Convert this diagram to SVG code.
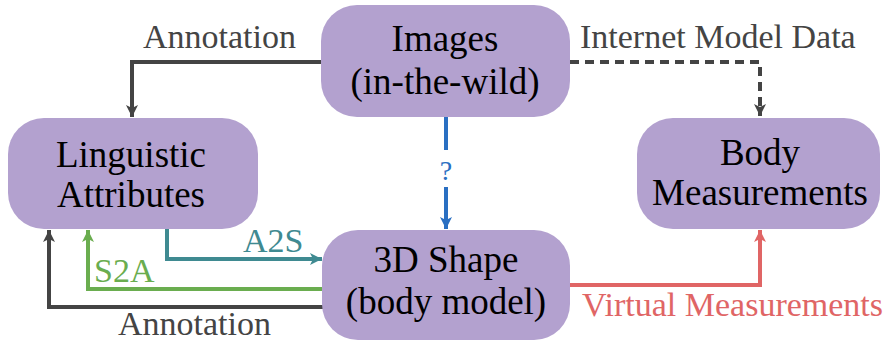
<svg xmlns="http://www.w3.org/2000/svg" width="889" height="342" viewBox="0 0 889 342">
  <style>
    .node { fill: #b3a1cf; }
    .ntext { font-family: "Liberation Serif", "Times New Roman", serif; font-size: 37px; fill: #000; text-anchor: middle; }
    .label { font-family: "Liberation Serif", "Times New Roman", serif; font-size: 34px; }
    .q { font-family: "Liberation Serif", "Times New Roman", serif; font-size: 28px; text-anchor: middle; }
    .edge { fill: none; stroke-width: 4; }
  </style>
  <defs>
    <marker id="ah-dark" markerUnits="userSpaceOnUse" markerWidth="14" markerHeight="14" refX="12" refY="6" orient="auto">
      <path d="M0,0 L12,6 L0,12 L3,6 Z" fill="#444"/>
    </marker>
    <marker id="ah-teal" markerUnits="userSpaceOnUse" markerWidth="14" markerHeight="14" refX="12" refY="6" orient="auto">
      <path d="M0,0 L12,6 L0,12 L3,6 Z" fill="#3f8a91"/>
    </marker>
    <marker id="ah-green" markerUnits="userSpaceOnUse" markerWidth="14" markerHeight="14" refX="12" refY="6" orient="auto">
      <path d="M0,0 L12,6 L0,12 L3,6 Z" fill="#6aad4f"/>
    </marker>
    <marker id="ah-red" markerUnits="userSpaceOnUse" markerWidth="14" markerHeight="14" refX="12" refY="6" orient="auto">
      <path d="M0,0 L12,6 L0,12 L3,6 Z" fill="#e06565"/>
    </marker>
    <marker id="ah-blue" markerUnits="userSpaceOnUse" markerWidth="14" markerHeight="14" refX="12" refY="6" orient="auto">
      <path d="M0,0 L12,6 L0,12 L3,6 Z" fill="#2a6fc2"/>
    </marker>
  </defs>

  <g id="connectors">
    <!-- images -> linguistic attributes (annotation) -->
    <path class="edge" stroke="#444" d="M322,62 H132 V117" marker-end="url(#ah-dark)"/>
    <text class="label" x="143" y="48" fill="#444">Annotation</text>

    <!-- images -> body measurements (internet model data) -->
    <path class="edge" stroke="#444" stroke-dasharray="9,6" d="M570,62 H760 V116" marker-end="url(#ah-dark)"/>
    <text class="label" x="580" y="48" fill="#444">Internet Model Data</text>

    <!-- images -> 3D shape (unknown) -->
    <path class="edge" stroke="#2a6fc2" d="M446,117 V150"/>
    <path class="edge" stroke="#2a6fc2" d="M446,187 V229" marker-end="url(#ah-blue)"/>
    <text class="q" x="446" y="180" fill="#2a6fc2">?</text>

    <!-- attributes -> shape (A2S) -->
    <path class="edge" stroke="#3f8a91" d="M167,229 V259 H322" marker-end="url(#ah-teal)"/>
    <text class="label" x="243" y="252" fill="#3f8a91">A2S</text>

    <!-- shape -> attributes (S2A) -->
    <path class="edge" stroke="#6aad4f" d="M323,289 H88 V230" marker-end="url(#ah-green)"/>
    <text class="label" x="94" y="282" fill="#6aad4f">S2A</text>

    <!-- shape -> attributes (annotation) -->
    <path class="edge" stroke="#444" d="M323,307 H49 V230" marker-end="url(#ah-dark)"/>
    <text class="label" x="118" y="335" fill="#444">Annotation</text>

    <!-- shape -> body measurements (virtual measurements) -->
    <path class="edge" stroke="#e06565" d="M570,285 H760 V230" marker-end="url(#ah-red)"/>
    <text class="label" x="582" y="316" fill="#e06565">Virtual Measurements</text>
  </g>

  <g id="images">
    <rect class="node" x="321" y="5" width="249" height="112" rx="36"/>
    <text class="ntext" x="445" y="51">Images</text>
    <text class="ntext" x="445" y="94">(in-the-wild)</text>
  </g>

  <g id="linguistic-attributes">
    <rect class="node" x="8" y="118" width="250" height="111" rx="36"/>
    <text class="ntext" x="131" y="167">Linguistic</text>
    <text class="ntext" x="131" y="207">Attributes</text>
  </g>

  <g id="body-measurements">
    <rect class="node" x="637" y="118" width="243" height="111" rx="36"/>
    <text class="ntext" x="760" y="165">Body</text>
    <text class="ntext" x="760" y="205">Measurements</text>
  </g>

  <g id="shape">
    <rect class="node" x="322" y="230" width="248" height="110" rx="36"/>
    <text class="ntext" x="446" y="272">3D Shape</text>
    <text class="ntext" x="446" y="314">(body model)</text>
  </g>
</svg>
